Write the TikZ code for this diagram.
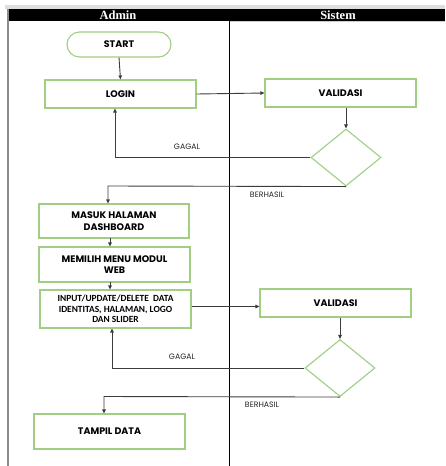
\documentclass[tikz,border=0pt]{standalone}
\usepackage{fontspec}
\setmainfont{Liberation Serif}
\newfontfamily\boxfont{Poppins}
\newfontfamily\smallboxfont{Carlito}
\usetikzlibrary{shapes.geometric,arrows.meta}
\definecolor{boxgreen}{RGB}{160,206,130}
\definecolor{conn}{RGB}{60,60,60}
\tikzset{
  x=1pt,y=-1pt,
  procbox/.style={draw=boxgreen,line width=1.1pt,fill=white,inner sep=0pt,
    font=\boxfont\bfseries\fontsize{9.5}{11.5}\selectfont,align=center},
  decbox/.style={draw=boxgreen,line width=1.1pt,diamond,inner sep=0pt},
  conline/.style={draw=conn,line width=0.9pt},
  conarrow/.style={conline,-{Triangle[length=4pt,width=3.5pt]}},
  lbl/.style={font=\boxfont\fontsize{7.8}{9}\selectfont,text=black!85},
  hdr/.style={font=\bfseries\fontsize{12.5}{14}\selectfont,text=white}
}
\begin{document}
\begin{tikzpicture}
\useasboundingbox (0,0) rectangle (445,466);
\fill[white] (0,0) rectangle (445,466);
% frame
\fill[black!13] (5,5) rectangle (445,9);
\fill[black] (7,9) rectangle (445,21);
\fill[black!45] (7,9) rectangle (9,466);
\draw[black!20,line width=0.6pt] (229,21.3) -- (445,21.3);
\node[hdr] (hadmin) at (118,15) {Admin};
\node[hdr] (hsistem) at (338,15) {Sistem};
\coordinate (divtop) at (229,21);
\coordinate (divbot) at (229,466);
\draw[black,line width=0.9pt] (divtop) -- (divbot);

% nodes
\node[procbox,rounded corners=12.5pt,minimum width=104pt,minimum height=25pt] (start) at (119,44.5) {START};
\node[procbox,minimum width=151pt,minimum height=28pt] (login) at (120.5,94) {LOGIN};
\node[procbox,minimum width=151pt,minimum height=28pt] (val1) at (340.5,93) {VALIDASI};
\node[decbox,minimum width=70pt,minimum height=57pt] (dec1) at (346,157.5) {};
\node[procbox,minimum width=150pt,minimum height=34pt] (masuk) at (114,221) {MASUK HALAMAN\\DASHBOARD};
\node[procbox,minimum width=151pt,minimum height=35pt] (memilih) at (114.5,264.5) {MEMILIH MENU MODUL\\WEB};
\node[procbox,minimum width=151pt,minimum height=38pt,font=\smallboxfont\bfseries\fontsize{9.4}{10.4}\selectfont] (input) at (115.5,309) {INPUT/UPDATE/DELETE\ \ DATA\\IDENTITAS, HALAMAN, LOGO\\DAN SLIDER};
\node[procbox,minimum width=151pt,minimum height=28pt] (val2) at (335.5,303) {VALIDASI};
\node[decbox,minimum width=70pt,minimum height=57pt] (dec2) at (340,368) {};
\node[procbox,minimum width=151pt,minimum height=35pt] (tampil) at (109.5,431.5) {TAMPIL DATA};

% connectors
\draw[conarrow] (start.south) -- (login.north);
\draw[conarrow] (login.east) -- (val1.west);
\draw[conarrow] (val1.south -| dec1.north) -- (dec1.north);
\coordinate (g1) at (115,157.5);
\draw[conarrow] (dec1.west) -- (g1) -- (g1 |- login.south);
\node[lbl] (gagal1) at (187,147) {GAGAL};
\coordinate (b1) at (108,186);
\draw[conarrow] (dec1.south) -- (b1) -- (b1 |- masuk.north);
\node[lbl] (berhasil1) at (267,195) {BERHASIL};
\coordinate (m1) at (110,238);
\draw[conarrow] (m1) -- (m1 |- memilih.north);
\coordinate (m2) at (110,282);
\draw[conarrow] (m2) -- (m2 |- input.north);
\draw[conarrow] (input.east |- 0,306.5) -- (val2.west |- 0,306.5);
\draw[conarrow] (val2.south -| dec2.north) -- (dec2.north);
\coordinate (g2) at (112,368);
\draw[conarrow] (dec2.west) -- (g2) -- (g2 |- input.south);
\node[lbl] (gagal2) at (182,357) {GAGAL};
\coordinate (b2) at (104,396.5);
\draw[conarrow] (dec2.south) -- (b2) -- (b2 |- tampil.north);
\node[lbl] (berhasil2) at (262,405) {BERHASIL};
\end{tikzpicture}
\end{document}
